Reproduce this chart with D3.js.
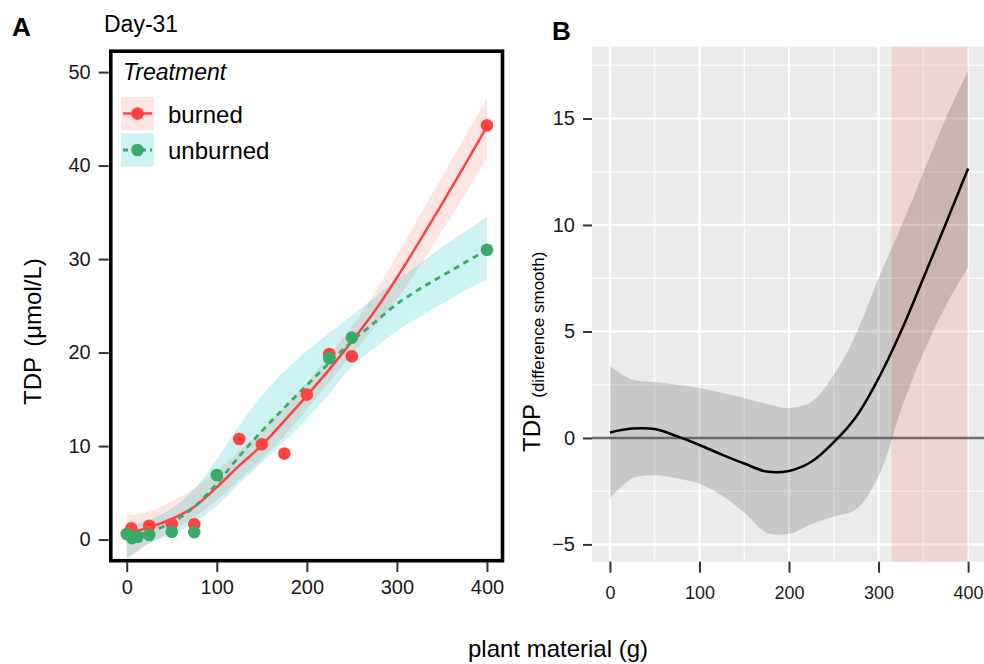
<!DOCTYPE html>
<html>
<head>
<meta charset="utf-8">
<script src="https://cdn.jsdelivr.net/npm/d3@7"></script>
<style>
  body { margin: 0; background: #fff; }
  svg { font-family: "Liberation Sans", Arial, Helvetica, sans-serif; }
</style>
</head>
<body>
<div id="chart"></div>
<script>
var xGrid = [0, 25, 50, 75, 100, 125, 150, 175, 200, 225, 250, 275, 300, 325, 350, 375, 400];

// panel A: fitted smooths and their bands
var burnedFit = [0.6, 1.3, 2.2, 3.5, 5.6, 7.9, 10.1, 12.7, 15.4, 18.2, 21.2, 24.4, 28.0, 31.9, 35.9, 40.0, 44.2];
var burnedLo = [-2.2, -0.4, 0.9, 2.4, 4.2, 6.4, 8.6, 11.1, 13.9, 16.9, 19.8, 22.7, 25.7, 29.2, 33.0, 36.8, 40.8];
var burnedHi = [2.6, 3.0, 4.1, 5.5, 7.3, 9.5, 11.7, 14.2, 16.8, 19.7, 22.8, 26.3, 30.4, 34.6, 38.8, 43.0, 47.2];
var unburnedFit = [0.35, 0.85, 1.8, 3.5, 6.0, 8.9, 11.6, 14.1, 16.5, 18.9, 21.2, 23.2, 25.2, 26.8, 28.2, 29.6, 31.0];
var unburnedLo = [-2.0, -0.4, 0.5, 1.8, 3.6, 6.0, 8.2, 10.5, 12.9, 15.6, 18.5, 20.5, 22.3, 23.8, 25.2, 26.6, 27.9];
var unburnedHi = [1.4, 2.1, 3.3, 5.4, 8.6, 12.2, 15.4, 18.0, 20.2, 22.1, 24.0, 25.9, 27.8, 29.5, 31.3, 32.9, 34.5];

// panel A: observations
var burnedX = [5, 25, 50, 75, 125, 150, 175, 200, 225, 250, 400];
var burnedY = [1.2, 1.48, 1.66, 1.63, 10.75, 10.2, 9.2, 15.5, 19.84, 19.6, 44.3];
var unburnedX = [0, 6, 12, 25, 50, 75, 100, 225, 250, 400];
var unburnedY = [0.59, 0.15, 0.3, 0.48, 0.83, 0.8, 6.9, 19.4, 21.6, 31.0];

// panel B: difference smooth (burned - unburned)
var diffFit = [0.26, 0.44, 0.42, 0.08, -0.33, -0.78, -1.2, -1.58, -1.55, -1.12, -0.2, 1.0, 2.8, 5.0, 7.5, 10.05, 12.65];
var diffLo = [-2.82, -1.9, -1.75, -1.9, -2.15, -2.7, -3.5, -4.45, -4.5, -4.05, -3.7, -3.35, -1.8, 1.3, 4.0, 6.2, 8.0];
var diffHi = [3.37, 2.75, 2.63, 2.5, 2.35, 2.12, 1.88, 1.6, 1.41, 1.7, 2.95, 4.9, 7.5, 9.9, 12.45, 15.0, 17.24];
var signifStart = 314.5, signifEnd = 400;

var xTicks = [0, 100, 200, 300, 400];
var yTicksA = [0, 10, 20, 30, 40, 50];
var yTicksB = [-5, 0, 5, 10, 15];
var treatments = ["burned", "unburned"];

var lineCol = { burned: "#ff4242", unburned: "#3aaa68" };
var bandCol = { burned: "#F8766D", unburned: "#00BFC4" };

var svg = d3.select("#chart").append("svg")
    .attr("width", 984)
    .attr("height", 664);

// ---------- panel A ----------
var xA = d3.scaleLinear().domain([-20, 420]).range([108.7, 505]);
var yA = d3.scaleLinear().domain([-2.4, 52.36]).range([562, 50]);

var gA = svg.append("g");

function bandPath(x, y, lo, hi) {
    return d3.area()
        .x(function (d, i) { return x(xGrid[i]); })
        .y0(function (d, i) { return y(lo[i]); })
        .y1(function (d, i) { return y(hi[i]); })
        .curve(d3.curveCatmullRom)(xGrid);
}
function fitPath(x, y, fit) {
    return d3.line()
        .x(function (d, i) { return x(xGrid[i]); })
        .y(function (d, i) { return y(fit[i]); })
        .curve(d3.curveCatmullRom)(xGrid);
}

gA.append("path").attr("d", bandPath(xA, yA, burnedLo, burnedHi))
    .attr("fill", bandCol.burned).attr("fill-opacity", 0.2);
gA.append("path").attr("d", bandPath(xA, yA, unburnedLo, unburnedHi))
    .attr("fill", bandCol.unburned).attr("fill-opacity", 0.2);

gA.append("path").attr("d", fitPath(xA, yA, burnedFit))
    .attr("fill", "none").attr("stroke", lineCol.burned).attr("stroke-width", 2.5);
gA.append("path").attr("d", fitPath(xA, yA, unburnedFit))
    .attr("fill", "none").attr("stroke", lineCol.unburned).attr("stroke-width", 2.8)
    .attr("stroke-dasharray", "6,5");

gA.selectAll(".pb").data(burnedX).enter().append("circle")
    .attr("cx", function (d) { return xA(d); })
    .attr("cy", function (d, i) { return yA(burnedY[i]); })
    .attr("r", 6.3).attr("fill", lineCol.burned);
gA.selectAll(".pu").data(unburnedX).enter().append("circle")
    .attr("cx", function (d) { return xA(d); })
    .attr("cy", function (d, i) { return yA(unburnedY[i]); })
    .attr("r", 6.3).attr("fill", lineCol.unburned);

// frame round the panel
gA.append("rect")
    .attr("x", 110.8).attr("y", 51.2)
    .attr("width", 391.7).attr("height", 509.5)
    .attr("fill", "none").attr("stroke", "#000").attr("stroke-width", 3.6);

var axA = gA.append("g").attr("transform", "translate(0,562)")
    .call(d3.axisBottom(xA).tickValues(xTicks).tickSize(10).tickPadding(8));
var ayA = gA.append("g").attr("transform", "translate(108.7,0)")
    .call(d3.axisLeft(yA).tickValues(yTicksA).tickSize(10).tickPadding(8));
[axA, ayA].forEach(function (a) {
    a.select(".domain").remove();
    a.selectAll("line").attr("stroke", "#333").attr("stroke-width", 2);
    a.selectAll("text").attr("fill", "#1a1a1a").style("font-size", "20px")
        .style("font-family", "'Liberation Sans', Arial, sans-serif");
});

// legend
var leg = gA.append("g");
leg.append("text").attr("x", 123).attr("y", 80)
    .style("font-size", "23px").style("font-style", "italic").text("Treatment");
treatments.forEach(function (t, i) {
    var top = 97 + i * 36.5;
    leg.append("rect").attr("x", 121).attr("y", top).attr("width", 33).attr("height", 33)
        .attr("fill", bandCol[t]).attr("fill-opacity", 0.2);
    leg.append("line").attr("x1", 123).attr("x2", 152).attr("y1", top + 16.5).attr("y2", top + 16.5)
        .attr("stroke", lineCol[t]).attr("stroke-width", t == "burned" ? 2.5 : 2.8)
        .attr("stroke-dasharray", t == "burned" ? null : "5,4");
    leg.append("circle").attr("cx", 137.5).attr("cy", top + 16.5).attr("r", 6.3).attr("fill", lineCol[t]);
    leg.append("text").attr("x", 168).attr("y", top + 25.5)
        .style("font-size", "24px").text(t);
});

svg.append("text").attr("x", 12).attr("y", 36).style("font-size", "26px")
    .style("font-weight", "bold").text("A");
svg.append("text").attr("x", 104).attr("y", 32).style("font-size", "23px").text("Day-31");
var tA = svg.append("text").attr("transform", "translate(41,405) rotate(-90)")
    .style("font-size", "24px");
tA.append("tspan").text("TDP ");
tA.append("tspan").attr("dx", 4).text("(μmol/L)");

// ---------- panel B ----------
var xB = d3.scaleLinear().domain([-20, 420]).range([592, 986]);
var yB = d3.scaleLinear().domain([-5.81, 18.37]).range([561.7, 46.7]);
var gB = svg.append("g");

gB.append("rect").attr("x", xB(-20)).attr("y", yB(18.37))
    .attr("width", xB(420) - xB(-20)).attr("height", yB(-5.81) - yB(18.37))
    .attr("fill", "#EBEBEB");

var xMinor = [50, 150, 250, 350];
var yMinor = [-2.5, 2.5, 7.5, 12.5, 17.5];
gB.selectAll(".vminor").data(xMinor).enter().append("line")
    .attr("x1", xB).attr("x2", xB).attr("y1", yB(18.37)).attr("y2", yB(-5.81))
    .attr("stroke", "#fff").attr("stroke-width", 1.1);
gB.selectAll(".hminor").data(yMinor).enter().append("line")
    .attr("y1", yB).attr("y2", yB).attr("x1", xB(-20)).attr("x2", xB(420))
    .attr("stroke", "#fff").attr("stroke-width", 1.1);
gB.selectAll(".vmajor").data(xTicks).enter().append("line")
    .attr("x1", xB).attr("x2", xB).attr("y1", yB(18.37)).attr("y2", yB(-5.81))
    .attr("stroke", "#fff").attr("stroke-width", 2.2);
gB.selectAll(".hmajor").data(yTicksB).enter().append("line")
    .attr("y1", yB).attr("y2", yB).attr("x1", xB(-20)).attr("x2", xB(420))
    .attr("stroke", "#fff").attr("stroke-width", 2.2);

// region where the difference is significant
gB.append("rect").attr("x", xB(signifStart)).attr("y", yB(18.37))
    .attr("width", xB(signifEnd) - xB(signifStart)).attr("height", yB(-5.81) - yB(18.37))
    .attr("fill", "#F8766D").attr("fill-opacity", 0.2);

gB.append("path").attr("d", bandPath(xB, yB, diffLo, diffHi))
    .attr("fill", "#000").attr("fill-opacity", 0.15);
gB.append("line").attr("x1", xB(-20)).attr("x2", xB(420)).attr("y1", yB(0)).attr("y2", yB(0))
    .attr("stroke", "#555").attr("stroke-opacity", 0.85).attr("stroke-width", 2.6);
gB.append("path").attr("d", fitPath(xB, yB, diffFit))
    .attr("fill", "none").attr("stroke", "#000").attr("stroke-width", 2.5);

var axB = gB.append("g").attr("transform", "translate(0,561.7)")
    .call(d3.axisBottom(xB).tickValues(xTicks).tickSize(11).tickPadding(14));
var ayB = gB.append("g").attr("transform", "translate(592,0)")
    .call(d3.axisLeft(yB).tickValues(yTicksB).tickSize(9).tickPadding(8)
        .tickFormat(function (d) { return d < 0 ? "\u2212" + Math.abs(d) : d; }));
[axB, ayB].forEach(function (a) {
    a.select(".domain").remove();
    a.selectAll("line").attr("stroke", "#333").attr("stroke-width", 2);
    a.selectAll("text").attr("fill", "#1a1a1a")
        .style("font-family", "'Liberation Sans', Arial, sans-serif");
});
axB.selectAll("text").style("font-size", "18px");
ayB.selectAll("text").style("font-size", "20px");

svg.append("text").attr("x", 552).attr("y", 40).style("font-size", "26px")
    .style("font-weight", "bold").text("B");
var tB = svg.append("text").attr("transform", "translate(540,452) rotate(-90)");
tB.append("tspan").style("font-size", "24px").text("TDP ");
tB.append("tspan").style("font-size", "17px").attr("dy", 4).text("(difference smooth)");

// shared x title
svg.append("text").attr("x", 558).attr("y", 657).attr("text-anchor", "middle")
    .style("font-size", "24px").text("plant material (g)");
</script>
</body>
</html>
